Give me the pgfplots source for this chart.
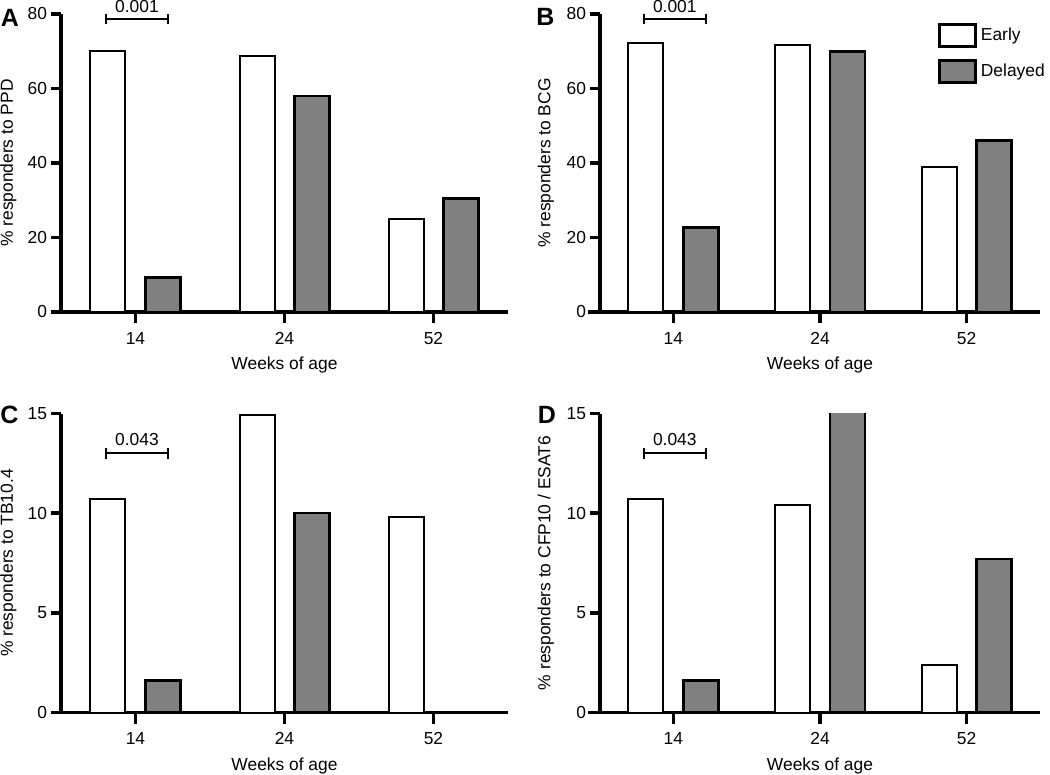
\documentclass[border=0pt]{standalone}
\usepackage{pgfplots}
\pgfplotsset{compat=1.18}
\usepackage{fontspec}
\setmainfont{Liberation Sans}

\pgfplotsset{
  panel/.style={
    scale only axis,
    axis x line*=bottom, axis y line*=left,
    axis line style={line width=1.7pt, -},
    xmin=-0.5, xmax=2.5, ymin=0,
    xtick={0,1,2}, xticklabels={14,24,52},
    xtick align=outside, ytick align=outside,
    major tick length=5pt,
    x tick style={line width=1.7pt, black},
    y tick style={line width=1.7pt, black},
    tick label style={font=\fontsize{8.7}{10}\selectfont},
    yticklabel style={xshift=1.5pt},
    xticklabel style={yshift=-1.5pt},
    label style={font=\fontsize{8.7}{10}\selectfont},
    /pgf/number format/assume math mode=true,
    xlabel={Weeks of age},
    xlabel style={at={(axis description cs:0.5,-0.178)}, anchor=center},
    clip mode=individual,
  },
  early/.style={ybar, bar width=17.5pt, bar shift=-13.75pt, fill=white, draw=black, line width=1pt},
  delayed/.style={ybar, bar width=17.5pt, bar shift=13.75pt, fill=gray, draw=black, line width=1.3pt},
}
\newcommand{\xticksmanual}{%
  \draw[line width=1.7pt] (axis cs:0,0) -- ++(0pt,-5.5pt);
  \draw[line width=1.7pt] (axis cs:1,0) -- ++(0pt,-5.5pt);
  \draw[line width=1.7pt] (axis cs:2,0) -- ++(0pt,-5.5pt);
}

\begin{document}
\begin{tikzpicture}
\useasboundingbox (0,0) rectangle (525pt,-387.5pt);

% Panel A
\begin{axis}[panel, at={(30.5pt,-156pt)}, anchor=south west,
  width=223.5pt, height=149pt, ymax=80, ytick={0,20,40,60,80},
  ylabel={\% responders to PPD},
  ylabel style={at={(axis description cs:-0.118,0.5)}, anchor=center}]
\addplot[early] coordinates {(0,70.1) (1,68.7) (2,24.9)};
\addplot[delayed] coordinates {(0,9.3) (1,58.0) (2,30.5)};
\draw[line width=1.7pt] ([xshift=-5pt]rel axis cs:0,0) -- (rel axis cs:0,0);
\xticksmanual
\draw[line width=1.1pt] (axis cs:-0.2,78.7) -- (axis cs:0.22,78.7);
\draw[line width=1.1pt] (axis cs:-0.2,77.3) -- (axis cs:-0.2,80);
\draw[line width=1.1pt] (axis cs:0.22,77.3) -- (axis cs:0.22,80);
\node[font=\fontsize{8.7}{10}\selectfont] at (axis cs:0.01,82.0) {0.001};
\end{axis}

% Panel B
\begin{axis}[panel, at={(300pt,-156pt)}, anchor=south west,
  width=220pt, height=149pt, ymax=80, ytick={0,20,40,60,80},
  ylabel={\% responders to BCG},
  ylabel style={at={(axis description cs:-0.123,0.5)}, anchor=center},
  legend style={at={(axis description cs:0.768,0.97)}, anchor=north west,
    draw=none, fill=none, inner sep=0pt, row sep=5.5pt,
    font=\fontsize{8.7}{10}\selectfont, legend cell align=left},
  legend image code/.code={},
  /tikz/every even column/.append style={column sep=8pt}]
\addplot[early, forget plot] coordinates {(0,72.1) (1,71.6) (2,39.0)};
\addplot[delayed, forget plot] coordinates {(0,22.7) (1,69.9) (2,46.0)};
\addlegendimage{legend image code/.code={\draw[fill=white,draw=black,line width=1.3pt] (0pt,-5.5pt) rectangle (18pt,5.5pt);}}
\addlegendentry{Early}
\addlegendimage{legend image code/.code={\draw[fill=gray,draw=black,line width=1.3pt] (0pt,-5.5pt) rectangle (18pt,5.5pt);}}
\addlegendentry{Delayed}
\draw[line width=1.7pt] ([xshift=-6pt]rel axis cs:0,0) -- (rel axis cs:0,0);
\xticksmanual
\draw[line width=1.1pt] (axis cs:-0.2,78.7) -- (axis cs:0.22,78.7);
\draw[line width=1.1pt] (axis cs:-0.2,77.3) -- (axis cs:-0.2,80);
\draw[line width=1.1pt] (axis cs:0.22,77.3) -- (axis cs:0.22,80);
\node[font=\fontsize{8.7}{10}\selectfont] at (axis cs:0.01,82.0) {0.001};
\end{axis}

% Panel C
\begin{axis}[panel, at={(30.5pt,-356.25pt)}, anchor=south west,
  width=223.5pt, height=149.5pt, ymax=15, ytick={0,5,10,15},
  ylabel={\% responders to TB10.4},
  ylabel style={at={(axis description cs:-0.118,0.5)}, anchor=center}]
\addplot[early] coordinates {(0,10.7) (1,14.9) (2,9.8)};
\addplot[delayed] coordinates {(0,1.6) (1,10.0) (2,0)};
\draw[line width=1.7pt] ([xshift=-5pt]rel axis cs:0,0) -- (rel axis cs:0,0);
\xticksmanual
\draw[line width=1.1pt] (axis cs:-0.2,13.0) -- (axis cs:0.22,13.0);
\draw[line width=1.1pt] (axis cs:-0.2,12.72) -- (axis cs:-0.2,13.28);
\draw[line width=1.1pt] (axis cs:0.22,12.72) -- (axis cs:0.22,13.28);
\node[font=\fontsize{8.7}{10}\selectfont] at (axis cs:0.01,13.68) {0.043};
\end{axis}

% Panel D
\begin{axis}[panel, at={(300pt,-356.25pt)}, anchor=south west,
  width=220pt, height=149.5pt, ymax=15, ytick={0,5,10,15},
  ylabel={\% responders to CFP10 / ESAT6},
  ylabel style={at={(axis description cs:-0.123,0.5)}, anchor=center}]
\addplot[early] coordinates {(0,10.7) (1,10.4) (2,2.4)};
\addplot[delayed] coordinates {(0,1.6) (1,15.8) (2,7.7)};
\draw[line width=1.7pt] ([xshift=-6pt]rel axis cs:0,0) -- (rel axis cs:0,0);
\xticksmanual
\draw[line width=1.1pt] (axis cs:-0.2,13.0) -- (axis cs:0.22,13.0);
\draw[line width=1.1pt] (axis cs:-0.2,12.72) -- (axis cs:-0.2,13.28);
\draw[line width=1.1pt] (axis cs:0.22,12.72) -- (axis cs:0.22,13.28);
\node[font=\fontsize{8.7}{10}\selectfont] at (axis cs:0.01,13.68) {0.043};
\end{axis}

\node[font=\bfseries\fontsize{12.5}{14}\selectfont] at (5pt,-8.75pt) {A};
\node[font=\bfseries\fontsize{12.5}{14}\selectfont] at (272.75pt,-8.5pt) {B};
\node[font=\bfseries\fontsize{12.5}{14}\selectfont] at (4.75pt,-207.5pt) {C};
\node[font=\bfseries\fontsize{12.5}{14}\selectfont] at (273.5pt,-207.5pt) {D};
\end{tikzpicture}
\end{document}
